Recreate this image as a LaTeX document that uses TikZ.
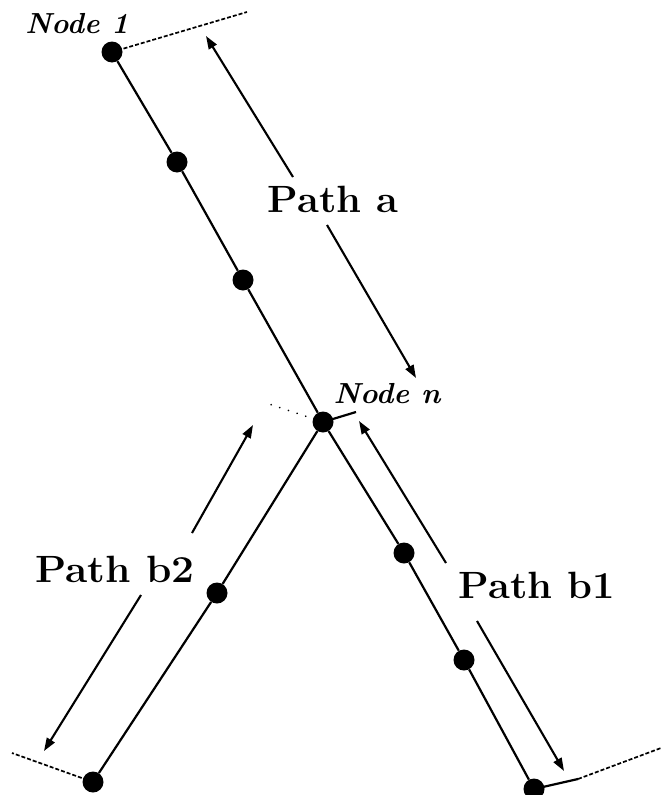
\documentclass[tikz,border=0pt]{standalone}
\usetikzlibrary{arrows.meta}
\begin{document}
\begin{tikzpicture}[x=1pt,y=-1pt,
  dot/.style={circle,fill=black,inner sep=0pt,minimum size=21pt},
  branch/.style={line width=2.2pt},
  guide/.style={line width=1.7pt,dash pattern=on 4pt off 2pt},
  sparse/.style={line width=1.8pt,line cap=round,dash pattern=on 0.1pt off 9pt},
  flow/.style={line width=2.1pt,-{Triangle[length=13pt,width=9pt]}},
  pathlabel/.style={inner sep=0pt,anchor=base,font=\fontsize{38}{42}\selectfont\bfseries},
  nodelabel/.style={inner sep=0pt,anchor=base,font=\fontsize{29}{32}\selectfont\bfseries\itshape}]
  \useasboundingbox (0,0) rectangle (661,795);

  % nodes along the three paths
  \node[dot] (n1) at (112,52) {};
  \node[dot] (a1) at (177,162) {};
  \node[dot] (a2) at (243,280) {};
  \node[dot] (nn) at (323,422) {};
  \node[dot] (b21) at (217,593) {};
  \node[dot] (b2e) at (93,782) {};
  \node[dot] (b11) at (404,553) {};
  \node[dot] (b12) at (464,660) {};
  \node[dot] (b1e) at (534,789) {};

  % path segments
  \draw[branch] (n1) -- (a1) -- (a2) -- (nn);
  \draw[branch] (nn) -- (b21) -- (b2e);
  \draw[branch] (nn) -- (b11) -- (b12) -- (b1e);

  % cross lines at the node ends
  \coordinate (g1) at (247,12);
  \coordinate (gn) at (356,412);
  \coordinate (gd) at (266,403);
  \coordinate (g2) at (12,753);
  \coordinate (g3s) at (578,779);
  \coordinate (g3) at (661,748);
  \draw[guide] (n1.center) -- (g1);
  \draw[branch] (nn.center) -- (gn);
  \draw[sparse] (nn.center) -- (gd);
  \draw[guide] (b2e.center) -- (g2);
  \draw[branch] (b1e.center) -- (g3s);
  \draw[guide] (g3s) -- (g3);

  % direction arrows
  \coordinate (pa1) at (293,177);  \coordinate (pa1h) at (206,36);
  \coordinate (pa2) at (327,225);  \coordinate (pa2h) at (416,378);
  \coordinate (pb2u) at (192,533); \coordinate (pb2uh) at (253,425);
  \coordinate (pb2d) at (141,595); \coordinate (pb2dh) at (44,751);
  \coordinate (pb1u) at (446,563); \coordinate (pb1uh) at (359,421);
  \coordinate (pb1d) at (477,621); \coordinate (pb1dh) at (564,771);
  \draw[flow] (pa1) -- (pa1h);
  \draw[flow] (pa2) -- (pa2h);
  \draw[flow] (pb2u) -- (pb2uh);
  \draw[flow] (pb2d) -- (pb2dh);
  \draw[flow] (pb1u) -- (pb1uh);
  \draw[flow] (pb1d) -- (pb1dh);

  % labels
  \node[nodelabel] (l1) at (77,33) {Node 1};
  \node[nodelabel] (ln) at (387,403) {\scalebox{1.02}[1]{Node n}};
  \node[pathlabel] (la) at (333,212) {\scalebox{1.05}[1]{Path a}};
  \node[pathlabel] (lb2) at (115,582) {\scalebox{1.07}[1]{Path b2}};
  \node[pathlabel] (lb1) at (537,598) {\scalebox{1.05}[1]{Path b1}};
\end{tikzpicture}
\end{document}
